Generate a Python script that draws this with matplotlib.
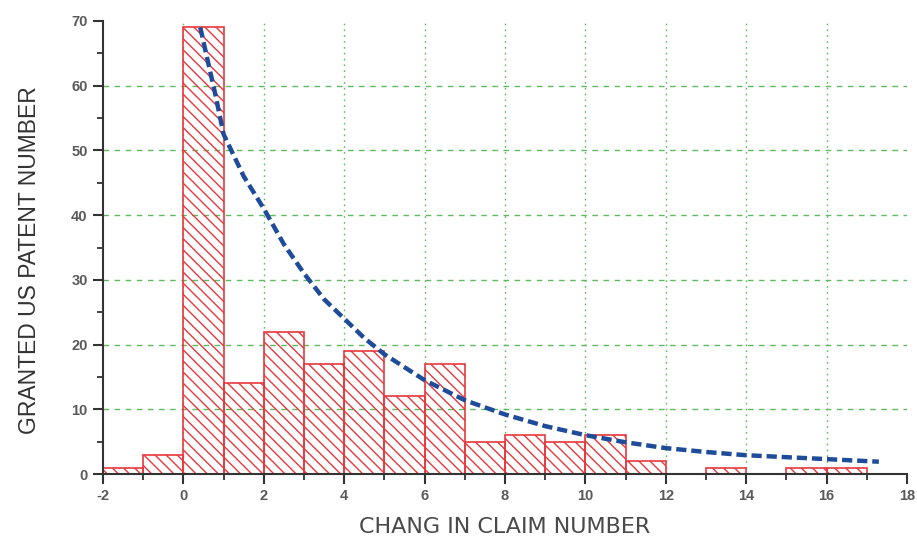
import matplotlib
matplotlib.use("Agg")
import matplotlib.pyplot as plt
import numpy as np
from matplotlib.ticker import MultipleLocator

# histogram bins (left edges, width 1) and counts
bin_left = [-2, -1, 0, 1, 2, 3, 4, 5, 6, 7, 8, 9, 10, 11, 12, 13, 14, 15, 16]
counts = [1, 3, 69, 14, 22, 17, 19, 12, 17, 5, 6, 5, 6, 2, 0, 1, 0, 1, 1]

# fitted curve, points
fit_x = [0.42, 0.6, 0.8, 1.0, 1.5, 2.0, 2.5, 3.0, 3.5, 4.0, 4.5, 5.0,
         6.0, 7.0, 8.0, 9.0, 10.0, 11.0, 12.0, 13.0, 14.0, 15.0, 16.0, 17.3]
fit_y = [69, 64, 58.5, 52.5, 46, 41, 35.5, 31, 27, 24, 21, 18.5,
         14.5, 11.4, 9.2, 7.4, 6.0, 4.9, 4.0, 3.4, 2.9, 2.6, 2.3, 1.9]

RED = "#e8383d"
BLUE = "#1f4c9a"
GREEN = "#5fb95f"
TICK_GRAY = "#5a5a5a"

plt.rcParams["font.family"] = ["Liberation Sans", "DejaVu Sans"]
plt.rcParams["axes.unicode_minus"] = False
plt.rcParams["hatch.color"] = RED
plt.rcParams["hatch.linewidth"] = 1.0

fig = plt.figure(figsize=(9.17, 5.41), dpi=100)
ax = fig.add_axes([103 / 917, 1 - 474 / 541, (907 - 103) / 917, (474 - 21) / 541])

ax.set_xlim(-2, 18)
ax.set_ylim(0, 70)

# grid: dashed horizontals, dotted verticals, not on the frame edges
for yv in range(10, 70, 10):
    ax.axhline(yv, color=GREEN, lw=1.0, ls=(0, (4, 4)), zorder=0)
for xv in range(0, 18, 2):
    ax.axvline(xv, color=GREEN, lw=1.0, ls=(0, (1.2, 3)), zorder=0)

ax.bar(np.array(bin_left), counts, width=1.0, align="edge",
       facecolor="none", edgecolor=RED, linewidth=1.2, hatch="\\\\\\", zorder=2)

ax.plot(fit_x, fit_y, color=BLUE, lw=3.2, ls=(0, (2.3, 1.1)), zorder=3)

ax.xaxis.set_major_locator(MultipleLocator(2))
ax.xaxis.set_minor_locator(MultipleLocator(1))
ax.yaxis.set_major_locator(MultipleLocator(10))
ax.yaxis.set_minor_locator(MultipleLocator(5))

for side in ("top", "right"):
    ax.spines[side].set_visible(False)
for side in ("left", "bottom"):
    ax.spines[side].set_color("#333333")
    ax.spines[side].set_linewidth(1.5)

ax.tick_params(which="major", direction="out", length=7, width=1.5,
               color="#333333", labelsize=10.5, labelcolor=TICK_GRAY, pad=4)
ax.tick_params(which="minor", direction="out", length=4, width=1.3, color="#333333")
for lbl in ax.get_xticklabels() + ax.get_yticklabels():
    lbl.set_fontweight("bold")

ax.set_xlabel("CHANG IN CLAIM NUMBER", fontsize=16, color="#4a4a4a",
              family=["DejaVu Sans"], labelpad=10)
ax.set_ylabel("GRANTED US PATENT NUMBER", fontsize=16.5, color="#333333")
ax.yaxis.set_label_coords(-0.077, 0.472)

fig.savefig("out.png", dpi=100)
